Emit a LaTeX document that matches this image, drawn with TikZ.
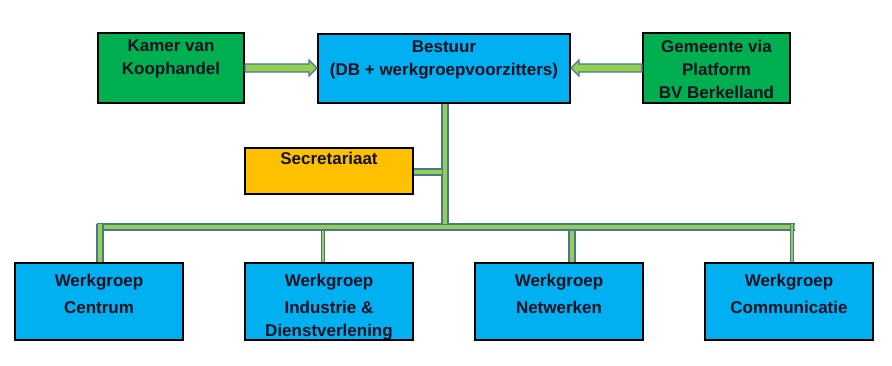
\documentclass[tikz,border=0pt]{standalone}
\usepackage{fontspec}
\setmainfont{Liberation Sans}
\usetikzlibrary{calc}
\definecolor{boxgreen}{HTML}{00B050}
\definecolor{boxblue}{HTML}{00B0F0}
\definecolor{boxorange}{HTML}{FFC000}
\definecolor{linkgreen}{HTML}{92D050}
\definecolor{linkedge}{HTML}{4F7596}
\definecolor{txt}{HTML}{111122}
\newcommand{\bxt}[4]{\parbox[c][#2pt][t]{#1pt}{\centering\vspace*{#3pt}#4}}
\tikzset{
  orgbox/.style={draw=black, line width=2pt, inner sep=0pt, text=txt,
    font=\bfseries\fontsize{17}{23}\selectfont},
  conn/.style={draw=linkedge, line width=1.4pt, double=linkgreen, double distance=4.4pt},
  thinconn/.style={draw=linkedge, line width=1.2pt, double=linkgreen, double distance=2pt},
  blockarrow/.style={draw=linkedge, line width=1.2pt, fill=linkgreen, line join=miter}
}
\begin{document}
\begin{tikzpicture}[x=1pt,y=-1pt]
\useasboundingbox (0,0) rectangle (892,365);
% top row
\node[orgbox, fill=boxgreen] (kvk) at (171,68) {\bxt{146}{70}{7}{Kamer van\\Koophandel}};
\node[orgbox, fill=boxblue] (bestuur) at (444,68) {\bxt{252}{69}{7}{Bestuur\\(DB + werkgroepvoorzitters)}};
\node[orgbox, fill=boxgreen] (gem) at (716.5,68) {\bxt{147}{70}{7}{Gemeente via\\Platform\\BV Berkelland}};
% secretariaat
\node[orgbox, fill=boxorange] (sec) at (329,171) {\bxt{168}{46}{4.5}{Secretariaat}};
% bottom row
\node[orgbox, fill=boxblue] (wc) at (99,301.5) {\bxt{168}{77}{11}{Werkgroep\\[4pt]Centrum}};
\node[orgbox, fill=boxblue] (wi) at (329,301.5) {\bxt{168}{77}{11}{Werkgroep\\[4pt]Industrie \&\\Dienstverlening}};
\node[orgbox, fill=boxblue] (wn) at (559,301.5) {\bxt{168}{77}{11}{Werkgroep\\[4pt]Netwerken}};
\node[orgbox, fill=boxblue] (wcom) at (789,301.5) {\bxt{168}{77}{11}{Werkgroep\\[4pt]Communicatie}};
% bus coordinates
\coordinate (busL) at (97,227);
\coordinate (busR) at (795,227);
\coordinate (trunkB) at (445,224);
\coordinate (trunkS) at (441.5,172);
% bus and trunk
\draw[conn] (busL) -- (busR);
\draw[conn] (bestuur.south -| trunkB) -- (trunkB);
\draw[conn] (sec.east |- trunkS) -- (trunkS);
% drops
\draw[conn] (100,223.5) -- (wc.north -| 100,0);
\draw[thinconn] (323,230.5) -- (wi.north -| 323,0);
\draw[conn] (572,230.5) -- (wn.north -| 572,0);
\draw[thinconn] (792,223.5) -- (wcom.north -| 792,0);
% block arrows
\path let \p1=(kvk.east), \p2=(bestuur.west) in
  [blockarrow] (\x1,\y1-4) -- (\x2-8,\y1-4) -- (\x2-8,\y1-8) -- (\x2,\y1)
  -- (\x2-8,\y1+8) -- (\x2-8,\y1+4) -- (\x1,\y1+4) -- cycle;
\path let \p1=(gem.west), \p2=(bestuur.east) in
  [blockarrow] (\x1,\y1-4) -- (\x2+8,\y1-4) -- (\x2+8,\y1-8) -- (\x2,\y1)
  -- (\x2+8,\y1+8) -- (\x2+8,\y1+4) -- (\x1,\y1+4) -- cycle;
\end{tikzpicture}
\end{document}
